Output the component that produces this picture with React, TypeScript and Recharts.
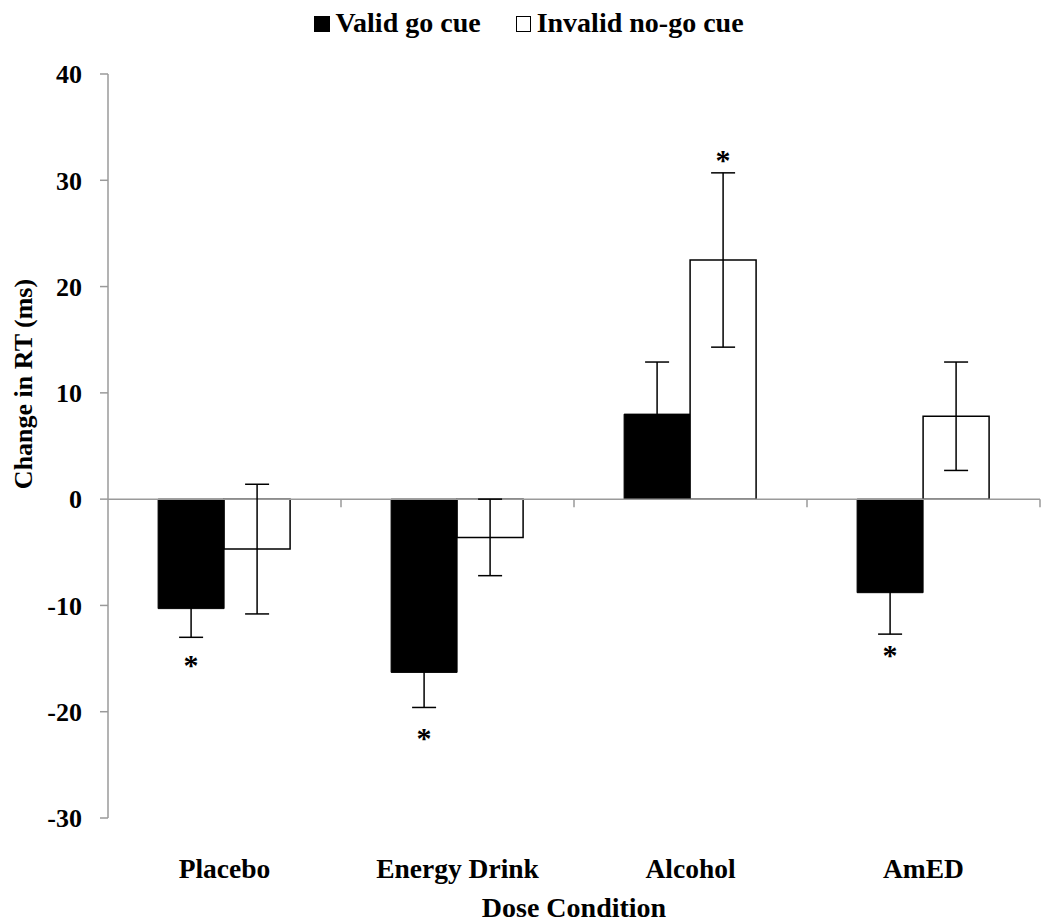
import React from 'react';
import {
  ComposedChart,
  Bar,
  XAxis,
  YAxis,
  ErrorBar,
  ReferenceLine,
  LabelList,
  Label,
} from 'recharts';

const conditions = ['Placebo', 'Energy Drink', 'Alcohol', 'AmED'];
const validGo = [-10.3, -16.3, 8.0, -8.8];
const validGoErr = [2.7, 3.3, 4.9, 3.9];
const invalidNoGo = [-4.7, -3.6, 22.5, 7.8];
const invalidNoGoErr = [6.1, 3.6, 8.2, 5.1];
// where the significance asterisks sit (null = none)
const validStars: (number | null)[] = [-15.3, -22.2, null, -14.4];
const invalidStars: (number | null)[] = [null, null, 32.2, null];
const yTicks = [-30, -20, -10, 0, 10, 20, 30, 40];

const data = conditions.map((name, i) => ({
  name,
  valid: validGo[i],
  validErr: validGoErr[i],
  invalid: invalidNoGo[i],
  invalidErr: invalidNoGoErr[i],
}));

const FONT = '"Liberation Serif", "Times New Roman", serif';
const AXIS = '#9a9a9a';

// draws "*" at a data value, using the bar's own pixel size to convert
function makeStar(values: (number | null)[], barValues: number[]) {
  return (props: any) => {
    const { x, y, width, height, index } = props;
    const star = values[index];
    if (star == null) return null;
    const v = barValues[index];
    const top = Math.min(y, y + height);
    const bottom = Math.max(y, y + height);
    const ppu = (bottom - top) / Math.abs(v);
    const zero = v >= 0 ? bottom : top;
    const sy = zero - star * ppu;
    return (
      <text
        x={x + width / 2}
        y={sy + 13}
        textAnchor="middle"
        fontFamily={FONT}
        fontWeight="bold"
        fontSize={30}
        fill="#000"
      >
        *
      </text>
    );
  };
}

function ZeroAxis(props: any) {
  const { x1, y1, x2 } = props;
  const n = conditions.length;
  const step = (x2 - x1) / n;
  return (
    <g>
      <line x1={x1} y1={y1} x2={x2} y2={y1} stroke={AXIS} strokeWidth={1.5} />
      {conditions.map((_, i) => (
        <line
          key={i}
          x1={x1 + step * (i + 1)}
          x2={x1 + step * (i + 1)}
          y1={y1}
          y2={y1 + 8}
          stroke={AXIS}
          strokeWidth={1.5}
        />
      ))}
    </g>
  );
}

function CategoryTick(props: any) {
  const { x, y, payload } = props;
  return (
    <text
      x={x}
      y={y + 52}
      textAnchor="middle"
      fontFamily={FONT}
      fontWeight="bold"
      fontSize={27.5}
      fill="#000"
    >
      {payload.value}
    </text>
  );
}

export default function App() {
  return (
    <div style={{ position: 'relative', width: 1042, height: 916, fontFamily: FONT }}>
      <div
        style={{
          position: 'absolute',
          top: 0,
          left: 0,
          width: 1042,
          display: 'flex',
          justifyContent: 'center',
          alignItems: 'baseline',
          height: 30,
          fontSize: 28,
          lineHeight: '30px',
          fontWeight: 'bold',
          color: '#000',
        }}
      >
        <span style={{ display: 'inline-block', width: 16, height: 16, background: '#000', marginRight: 5 }} />
        <span>Valid go cue</span>
        <span
          style={{
            display: 'inline-block',
            width: 13,
            height: 14,
            border: '1px solid #000',
            background: '#fff',
            marginLeft: 35,
            marginRight: 6,
          }}
        />
        <span>Invalid no-go cue</span>
      </div>
      <ComposedChart
        width={1042}
        height={916}
        data={data}
        margin={{ top: 66, right: 10, bottom: 46, left: 40 }}
        barCategoryGap="21.5%"
        barGap={0}
      >
        <XAxis
          dataKey="name"
          axisLine={false}
          tickLine={false}
          height={60}
          interval={0}
          tick={<CategoryTick />}
        >
          <Label
            content={(p: any) => {
              const vb = p.viewBox;
              return (
                <text
                  x={vb.x + vb.width / 2}
                  y={vb.y + 99}
                  textAnchor="middle"
                  fontFamily={FONT}
                  fontWeight="bold"
                  fontSize={28}
                  fill="#000"
                >
                  Dose Condition
                </text>
              );
            }}
          />
        </XAxis>
        <YAxis
          width={60}
          domain={[-30, 40]}
          ticks={yTicks}
          interval={0}
          axisLine={{ stroke: AXIS, strokeWidth: 1.5 }}
          tickLine={{ stroke: AXIS, strokeWidth: 1.5 }}
          tickSize={8}
          tickMargin={18}
          tick={{ fontFamily: FONT, fontWeight: 'bold', fontSize: 26, fill: '#000' }}
        >
          <Label
            content={(p: any) => {
              const vb = p.viewBox;
              const cx = vb.x - 25;
              const cy = vb.y + vb.height / 2 - 62;
              return (
                <text
                  x={cx}
                  y={cy}
                  transform={`rotate(-90 ${cx} ${cy})`}
                  textAnchor="middle"
                  dominantBaseline="central"
                  fontFamily={FONT}
                  fontWeight="bold"
                  fontSize={26}
                  fill="#000"
                >
                  Change in RT (ms)
                </text>
              );
            }}
          />
        </YAxis>
        <ReferenceLine y={0} shape={(p: any) => <ZeroAxis {...p} />} />
        <Bar dataKey="valid" fill="#000" stroke="#000" strokeWidth={1} isAnimationActive={false}>
          <ErrorBar dataKey="validErr" width={12} stroke="#000" strokeWidth={1.5} />
          <LabelList dataKey="valid" content={makeStar(validStars, validGo)} />
        </Bar>
        <Bar dataKey="invalid" fill="#fff" stroke="#000" strokeWidth={1.5} isAnimationActive={false}>
          <ErrorBar dataKey="invalidErr" width={12} stroke="#000" strokeWidth={1.5} />
          <LabelList dataKey="invalid" content={makeStar(invalidStars, invalidNoGo)} />
        </Bar>
      </ComposedChart>
    </div>
  );
}
